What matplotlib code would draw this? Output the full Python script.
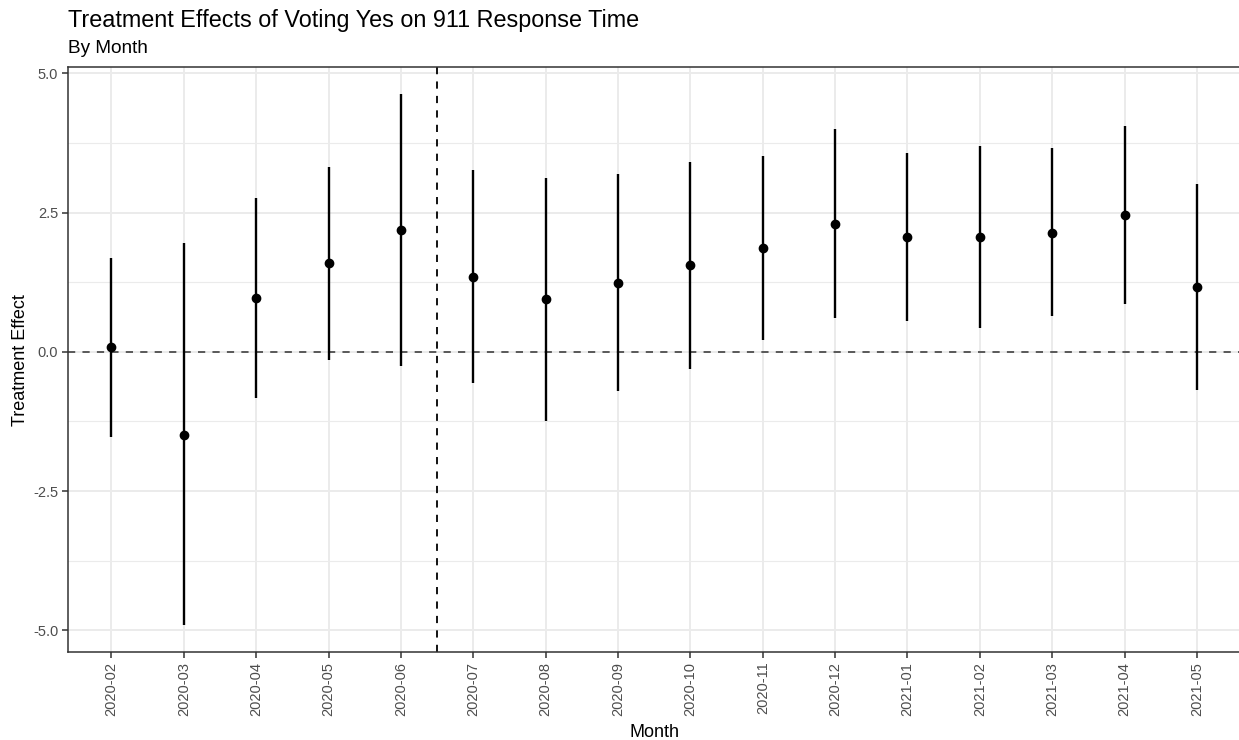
import numpy as np
import matplotlib
matplotlib.use('Agg')
import matplotlib.pyplot as plt

months = ['2020-02', '2020-03', '2020-04', '2020-05', '2020-06', '2020-07', '2020-08', '2020-09',
          '2020-10', '2020-11', '2020-12', '2021-01', '2021-02', '2021-03', '2021-04', '2021-05']
effect = [0.09, -1.49, 0.97, 1.59, 2.19, 1.35, 0.94, 1.24, 1.56, 1.87, 2.30, 2.07, 2.07, 2.14, 2.45, 1.17]
upper = [1.69, 1.95, 2.77, 3.32, 4.63, 3.26, 3.12, 3.20, 3.41, 3.51, 4.00, 3.57, 3.70, 3.65, 4.05, 3.02]
lower = [-1.53, -4.91, -0.83, -0.14, -0.25, -0.56, -1.24, -0.71, -0.31, 0.21, 0.60, 0.55, 0.42, 0.64, 0.85, -0.68]
cutoff = 4.5   # between 2020-06 and 2020-07

plt.rcParams['font.family'] = ['Liberation Sans', 'DejaVu Sans']

W, H = 1239, 740
fig = plt.figure(figsize=(W / 100, H / 100), dpi=100)
left, right, top, bottom = 68, 1240.4, 67.3, 652
ax = fig.add_axes([left / W, 1 - bottom / H, (right - left) / W, (bottom - top) / H])

x = np.arange(len(months))

# grid like theme_bw
for yv in [-3.75, -1.25, 1.25, 3.75]:
    ax.axhline(yv, color='#EBEBEB', lw=0.8, zorder=0)
for yv in [-5, -2.5, 0, 2.5, 5]:
    ax.axhline(yv, color='#EBEBEB', lw=1.4, zorder=0)
for xv in x:
    ax.axvline(xv, color='#EBEBEB', lw=1.4, zorder=0)

ax.axhline(0, color='#4D4D4D', lw=1.3, ls=(0, (4, 4)), zorder=1)
ax.axvline(cutoff, color='black', lw=1.3, ls=(0, (4, 4)), zorder=1)

ax.vlines(x, lower, upper, color='black', lw=1.7, zorder=2)
ax.plot(x, effect, 'o', color='black', ms=6, zorder=3)

n = len(months)
ax.set_xlim(-0.6, n - 1 + 0.6)
lo, hi = min(lower), max(upper)
pad = 0.05 * (hi - lo)
ax.set_ylim(lo - pad, hi + pad)

ax.set_xticks(x)
ax.set_xticklabels(months, rotation=90)
ax.set_yticks([-5, -2.5, 0, 2.5, 5])
ax.set_yticklabels(['-5.0', '-2.5', '0.0', '2.5', '5.0'])
ax.tick_params(axis='both', colors='#333333', labelcolor='#4D4D4D', labelsize=10.5,
               length=4, width=1.1, pad=3)

for s in ax.spines.values():
    s.set_color('#333333')
    s.set_linewidth(1.1)

ax.set_xlabel('Month', fontsize=13, color='black', labelpad=6)
ax.set_ylabel('Treatment Effect', fontsize=13, color='black', labelpad=3)

fig.text(left / W, 1 - 27 / H, 'Treatment Effects of Voting Yes on 911 Response Time',
         fontsize=16.8, color='black', va='baseline', ha='left')
fig.text(left / W, 1 - 53 / H, 'By Month', fontsize=13.7, color='black', va='baseline', ha='left')

fig.savefig('out.png', dpi=100)
